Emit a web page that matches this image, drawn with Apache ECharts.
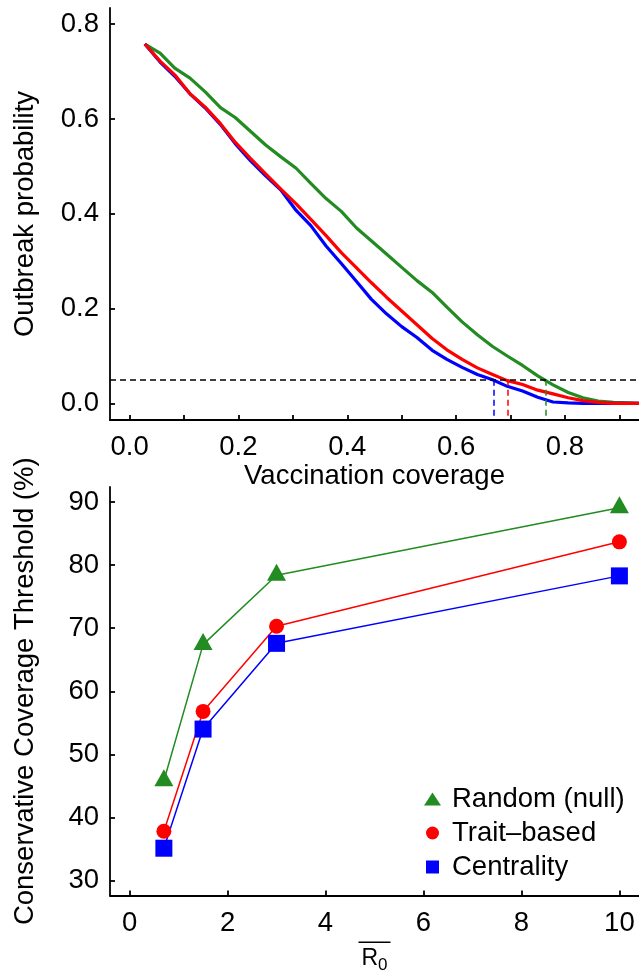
<!DOCTYPE html>
<html>
<head>
<meta charset="utf-8">
<title>Vaccination strategies</title>
<script src="https://cdn.jsdelivr.net/npm/echarts@6/dist/echarts.min.js"></script>
<style>
  html, body { margin: 0; padding: 0; background: #fff; }
  #chart { width: 639px; height: 975px; }
</style>
</head>
<body>
<div id="chart"></div>
<script>
// Outbreak probability against vaccination coverage, one curve per strategy
const coverage = [0.028, 0.056, 0.083, 0.111, 0.139, 0.167, 0.194, 0.222, 0.250, 0.278,
                  0.306, 0.333, 0.361, 0.389, 0.417, 0.444, 0.472, 0.500, 0.528, 0.556,
                  0.583, 0.611, 0.639, 0.667, 0.694, 0.722, 0.750, 0.778, 0.806, 0.833,
                  0.861, 0.889, 0.917, 0.944];
const probRandom = [0.758, 0.739, 0.707, 0.686, 0.657, 0.624, 0.603, 0.574, 0.545, 0.520,
                    0.496, 0.464, 0.432, 0.405, 0.370, 0.343, 0.315, 0.287, 0.259, 0.234,
                    0.203, 0.172, 0.145, 0.120, 0.100, 0.080, 0.058, 0.039, 0.023, 0.012,
                    0.005, 0.002, 0.001, 0.000];
const probTrait = [0.758, 0.722, 0.693, 0.653, 0.625, 0.590, 0.551, 0.517, 0.484, 0.452,
                   0.421, 0.388, 0.354, 0.318, 0.286, 0.255, 0.224, 0.195, 0.166, 0.137,
                   0.113, 0.093, 0.075, 0.061, 0.048, 0.040, 0.028, 0.020, 0.012, 0.006,
                   0.002, 0.000, 0.000, 0.000];
const probCentrality = [0.758, 0.720, 0.690, 0.653, 0.623, 0.588, 0.548, 0.512, 0.480, 0.450,
                        0.407, 0.375, 0.332, 0.295, 0.257, 0.220, 0.189, 0.162, 0.139, 0.112,
                        0.093, 0.076, 0.061, 0.050, 0.036, 0.026, 0.013, 0.003, 0.001, 0.000,
                        0.000, 0.000, 0.000, 0.000];
const outbreakCutoff = 0.05;
// coverage where each curve drops below the cutoff: random, trait-based, centrality
const thresholdCoverage = [0.764, 0.694, 0.669];

// Coverage threshold (%) against mean R0
const r0 = [0.7, 1.5, 3, 10];
const thrRandom = [45.8, 67.4, 78.4, 89.1];
const thrTrait = [37.8, 56.8, 70.3, 83.7];
const thrCentrality = [35.1, 54.0, 67.6, 78.3];

// Tick positions
const topXTicks = [0, 0.1, 0.2, 0.3, 0.4, 0.5, 0.6, 0.7, 0.8, 0.9];
const topXLabels = [0, 0.2, 0.4, 0.6, 0.8];
const topYTicks = [0, 0.2, 0.4, 0.6, 0.8];
const botXTicks = [0, 2, 4, 6, 8, 10];
const botYTicks = [30, 40, 50, 60, 70, 80, 90];

const GREEN = '#228B22', RED = '#FF0000', BLUE = '#0000FF';
const FONT = '"Liberation Sans", Arial, Helvetica, sans-serif';
const FS = 27.5;

const topRange = { xMin: -0.036, xMax: 0.936, yMin: -0.035, yMax: 0.834 };
const botRange = { xMin: -0.4, xMax: 10.4, yMin: 27.6, yMax: 92.4 };

const zip = (xs, ys) => xs.map((x, i) => [x, ys[i]]);

function axisBase(grid, min, max, ticks, labels, fmt, margin) {
  return {
    type: 'value', gridIndex: grid, min: min, max: max,
    axisLine: { show: true, onZero: false, lineStyle: { color: '#000', width: 1.8 } },
    axisTick: { show: true, inside: true, length: 5, customValues: ticks,
                lineStyle: { color: '#000', width: 1.8 } },
    axisLabel: { customValues: labels, formatter: fmt, margin: margin,
                 fontSize: FS, color: '#000', fontFamily: FONT },
    splitLine: { show: false },
    nameTextStyle: { fontSize: FS, color: '#000', fontFamily: FONT }
  };
}

const fmt1 = v => Number(v).toFixed(1);
const fmt0 = v => String(Math.round(v));

const xTop = Object.assign(axisBase(0, topRange.xMin, topRange.xMax, topXTicks, topXLabels, fmt1, 13), {
  name: 'Vaccination coverage', nameLocation: 'middle', nameGap: 42
});
const yTop = Object.assign(axisBase(0, topRange.yMin, topRange.yMax, topYTicks, topYTicks, fmt1, 11), {
  name: 'Outbreak probability', nameLocation: 'middle', nameGap: 71
});
const xBot = Object.assign(axisBase(1, botRange.xMin, botRange.xMax, botXTicks, botXTicks, fmt0, 14), {
  name: '{bar| }\n{gap| }\n{r|R}{s|0}', nameLocation: 'middle', nameGap: 46
});
xBot.nameTextStyle = {
  fontFamily: FONT, color: '#000',
  rich: {
    bar: { width: 32, height: 1.5, lineHeight: 1.5, backgroundColor: '#000', fontSize: 1 },
    gap: { height: 4, lineHeight: 4, fontSize: 1 },
    r: { fontSize: 23, lineHeight: 24, verticalAlign: 'top', fontFamily: FONT, color: '#000' },
    s: { fontSize: 17, lineHeight: 17, verticalAlign: 'top', padding: [10, 0, 0, 0],
         fontFamily: FONT, color: '#000' }
  }
};
const yBot = Object.assign(axisBase(1, botRange.yMin, botRange.yMax, botYTicks, botYTicks, fmt0, 11), {
  name: 'Conservative Coverage Threshold (%)', nameLocation: 'middle', nameGap: 71
});

function cutoffLine(x, color) {
  return [{ coord: [x, outbreakCutoff], lineStyle: { color: color } },
          { coord: [x, topRange.yMin] }];
}

function curve(name, ys, color, thr) {
  return {
    type: 'line', name: name, xAxisIndex: 0, yAxisIndex: 0,
    data: zip(coverage, ys), showSymbol: false, symbol: 'none',
    lineStyle: { color: color, width: 3.2 }, itemStyle: { color: color },
    silent: true, z: 2,
    markLine: {
      silent: true, symbol: 'none', label: { show: false }, animation: false,
      lineStyle: { type: [6, 4], width: 1.5, color: color },
      data: [cutoffLine(thr, color)]
    }
  };
}

const topSeries = [
  curve('random curve', probRandom, GREEN, thresholdCoverage[0]),
  curve('centrality curve', probCentrality, BLUE, thresholdCoverage[2]),
  curve('trait curve', probTrait, RED, thresholdCoverage[1])
];
// horizontal cutoff across the whole panel
topSeries[0].markLine.data.push({ yAxis: outbreakCutoff, lineStyle: { color: '#000', type: [6, 4], width: 1.5 } });

function strategy(name, ys, color, symbol, size, offset) {
  return {
    type: 'line', name: name, xAxisIndex: 1, yAxisIndex: 1,
    data: zip(r0, ys), symbol: symbol, symbolSize: size, symbolOffset: offset,
    showAllSymbol: true,
    lineStyle: { color: color, width: 1.5 }, itemStyle: { color: color }
  };
}

const botSeries = [
  strategy('Random (null)', thrRandom, GREEN, 'triangle', [19, 17], [0, -3]),
  strategy('Trait–based', thrTrait, RED, 'circle', 15, [0, 0]),
  strategy('Centrality', thrCentrality, BLUE, 'rect', 17, [0, 0])
];

const chart = echarts.init(document.getElementById('chart'), null, { renderer: 'canvas' });
chart.setOption({
  animation: false,
  backgroundColor: '#fff',
  textStyle: { fontFamily: FONT },
  grid: [
    { left: 110, top: 8, width: 530, height: 412 },
    { left: 110, top: 487, width: 530, height: 410 }
  ],
  xAxis: [xTop, xBot],
  yAxis: [yTop, yBot],
  legend: {
    orient: 'vertical', left: 419, top: 780,
    itemWidth: 17, itemHeight: 13, itemGap: 6,
    selectedMode: false, symbolKeepAspect: true,
    textStyle: { fontSize: FS, lineHeight: 24, color: '#000', fontFamily: FONT, padding: [0, 0, 0, 6] },
    data: [
      { name: 'Random (null)', icon: 'triangle' },
      { name: 'Trait–based', icon: 'circle' },
      { name: 'Centrality', icon: 'path://M0,0h10v10h-10z' }
    ]
  },
  series: topSeries.concat(botSeries)
});
</script>
</body>
</html>
